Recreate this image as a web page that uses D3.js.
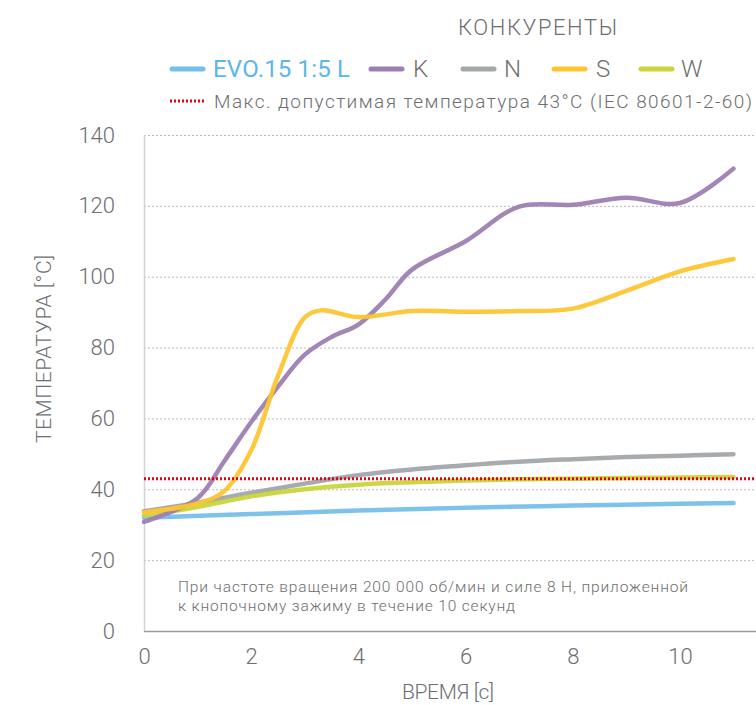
<!DOCTYPE html>
<html>
<head>
<meta charset="utf-8">
<script src="https://cdn.jsdelivr.net/npm/d3@7"></script>
<style>
  body { margin: 0; background: #fff; }
  svg text { font-family: Roboto, "Noto Sans", sans-serif; font-weight: 300; fill: #6d6e70; }
</style>
</head>
<body>
<div id="chart"></div>
<script>
// data
var yTicks = [0, 20, 40, 60, 80, 100, 120, 140];
var xTicks = [0, 2, 4, 6, 8, 10];
var seriesNames = ["EVO.15 1:5 L", "K", "N", "S", "W"];
var seriesColors = ["#76bfea", "#9d80b1", "#a3a7aa", "#fdc530", "#c9d53c"];
var limitValue = 43;

var evoX = [0, 2, 4, 6, 8, 10, 11];
var evoY = [32, 33, 34, 34.8, 35.4, 35.9, 36.1];

var kX = [0, 1, 1.5, 2, 2.5, 3, 3.5, 4, 4.5, 5, 6, 7, 8, 9, 10, 11];
var kY = [30.8, 37.5, 48, 59, 69, 78, 83, 86.5, 93.5, 102, 110, 119.8, 120.3, 122.3, 120.8, 130.5];

var nX = [0, 1, 2, 3, 4, 5, 6, 7, 8, 9, 10, 11];
var nY = [33.8, 36.2, 39, 41.6, 44, 45.6, 46.8, 47.8, 48.5, 49.1, 49.5, 49.9];

var sX = [0, 1, 1.5, 2, 2.5, 3, 3.3, 4, 5, 6, 7, 8, 9, 10, 11];
var sY = [33.5, 36, 39.5, 51, 72, 88.5, 90.5, 88.6, 90.3, 90.1, 90.3, 91, 96, 101.5, 105];

var wX = [0, 1, 2, 3, 4, 5, 6, 7, 8, 9, 10, 11];
var wY = [32.6, 35, 38, 40, 41.3, 42, 42.5, 42.8, 43, 43.2, 43.3, 43.5];

var seriesX = [evoX, kX, nX, sX, wX];
var seriesY = [evoY, kY, nY, sY, wY];

var width = 756, height = 705;
var margins = { top: 135, right: 0, bottom: 74, left: 144 };

var svg = d3.select("#chart").append("svg")
    .attr("width", width)
    .attr("height", height);

var xScale = d3.scaleLinear()
    .domain([0, 11.42])
    .range([margins.left, width - margins.right]);
var yScale = d3.scaleLinear()
    .domain([0, 140])
    .range([height - margins.bottom, margins.top]);

// grid
svg.append("g").attr("class", "grid")
    .selectAll("line")
    .data(yTicks.slice(1))
    .enter().append("line")
    .attr("x1", xScale(0))
    .attr("x2", width)
    .attr("y1", function (d) { return yScale(d) + 0.5; })
    .attr("y2", function (d) { return yScale(d) + 0.5; })
    .attr("stroke", "#b9b9b9")
    .attr("stroke-width", 1)
    .attr("stroke-dasharray", "2,2");

// axes lines
svg.append("line")
    .attr("x1", xScale(0) + 0.5).attr("x2", xScale(0) + 0.5)
    .attr("y1", yScale(140)).attr("y2", yScale(0))
    .attr("stroke", "#d4d4d4").attr("stroke-width", 1.5);
svg.append("line")
    .attr("x1", xScale(0)).attr("x2", width)
    .attr("y1", yScale(0) + 0.5).attr("y2", yScale(0) + 0.5)
    .attr("stroke", "#9a9a9a").attr("stroke-width", 1.5);

// tick labels
var yAxis = d3.axisLeft(yScale).tickValues(yTicks).tickSize(0).tickPadding(29);
var gy = svg.append("g").attr("transform", "translate(" + margins.left + ",0)").call(yAxis);
gy.select(".domain").remove();
gy.selectAll("text").style("font-size", "22px");

var xAxis = d3.axisBottom(xScale).tickValues(xTicks).tickSize(0).tickPadding(17);
var gx = svg.append("g").attr("transform", "translate(0," + yScale(0) + ")").call(xAxis);
gx.select(".domain").remove();
gx.selectAll("text").style("font-size", "22px");

// axis titles
svg.append("text")
    .attr("transform", "translate(51,349) rotate(-90)")
    .attr("text-anchor", "middle")
    .style("font-size", "21px")
    .attr("textLength", 188)
    .attr("lengthAdjust", "spacing")
    .text("ТЕМПЕРАТУРА [°С]");
svg.append("text")
    .attr("x", 448).attr("y", 699)
    .attr("text-anchor", "middle")
    .style("font-size", "21px")
    .attr("textLength", 92)
    .attr("lengthAdjust", "spacing")
    .text("ВРЕМЯ [с]");

// note
var note = svg.append("text").style("font-size", "15.5px");
note.append("tspan").attr("x", 178).attr("y", 592)
    .attr("textLength", 510).attr("lengthAdjust", "spacing")
    .text("При частоте вращения 200 000 об/мин и силе 8 Н, приложенной");
note.append("tspan").attr("x", 178).attr("y", 611)
    .attr("textLength", 337).attr("lengthAdjust", "spacing")
    .text("к кнопочному зажиму в течение 10 секунд");

// lines
var line = d3.line()
    .x(function (d) { return xScale(d[0]); })
    .y(function (d) { return yScale(d[1]); })
    .curve(d3.curveCatmullRom.alpha(0.5));

var drawOrder = [0, 2, 4, 1, 3];
drawOrder.forEach(function (i) {
    var pts = seriesX[i].map(function (x, j) { return [x, seriesY[i][j]]; });
    svg.append("path")
        .datum(pts)
        .attr("d", line)
        .attr("fill", "none")
        .attr("stroke", seriesColors[i])
        .attr("stroke-width", 4.5)
        .attr("stroke-linecap", "round")
        .attr("stroke-opacity", 0.95);
});

// limit line
svg.append("line")
    .attr("x1", xScale(0)).attr("x2", width)
    .attr("y1", yScale(limitValue)).attr("y2", yScale(limitValue))
    .attr("stroke", "#e3001b")
    .attr("stroke-width", 3)
    .attr("stroke-dasharray", "2,2");

// legend
svg.append("text")
    .attr("x", 458).attr("y", 35)
    .style("font-size", "22px")
    .attr("textLength", 159)
    .attr("lengthAdjust", "spacing")
    .text("КОНКУРЕНТЫ");

var legendX = [172, 371, 463, 554, 641];
var legendTextX = [213, 413, 504, 596, 681];
seriesNames.forEach(function (name, i) {
    svg.append("line")
        .attr("x1", legendX[i]).attr("x2", legendX[i] + 31)
        .attr("y1", 69).attr("y2", 69)
        .attr("stroke", seriesColors[i])
        .attr("stroke-width", 5)
        .attr("stroke-linecap", "round");
    var t = svg.append("text")
        .attr("x", legendTextX[i]).attr("y", 77)
        .style("font-size", "24px")
        .style("fill", i === 0 ? "#5cb6e8" : "#6d6e70")
        .style("font-weight", i === 0 ? 400 : 300)
        .text(name);
    if (i === 0) t.attr("textLength", 137).attr("lengthAdjust", "spacing");
});

svg.append("line")
    .attr("x1", 170).attr("x2", 206)
    .attr("y1", 101).attr("y2", 101)
    .attr("stroke", "#e3001b")
    .attr("stroke-width", 3)
    .attr("stroke-dasharray", "2,2");
svg.append("text")
    .attr("x", 214).attr("y", 108)
    .style("font-size", "19px")
    .attr("textLength", 538)
    .attr("lengthAdjust", "spacing")
    .text("Макс. допустимая температура 43°C (IEC 80601-2-60)");
</script>
</body>
</html>
